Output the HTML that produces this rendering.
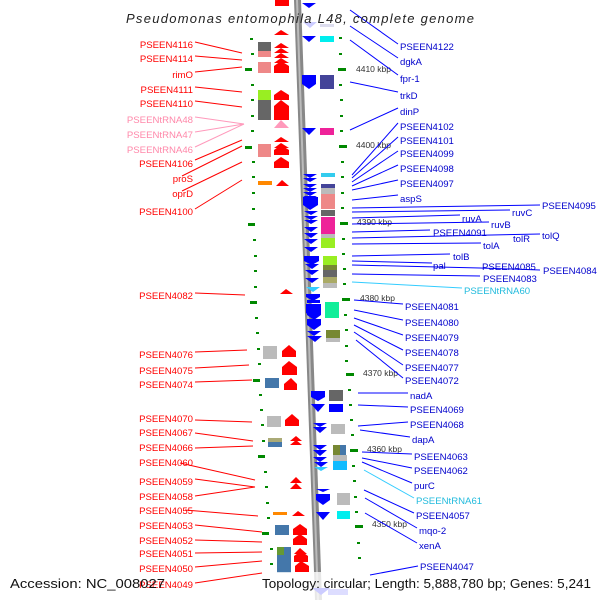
<!DOCTYPE html>
<html><head><meta charset="utf-8"><style>
html,body{margin:0;padding:0;background:#fff;width:600px;height:600px;overflow:hidden}
svg{display:block;font-family:"Liberation Sans","DejaVu Sans",sans-serif}
.l{fill:#f00;font-size:9.6px;text-anchor:end}
.p{fill:#f8a;font-size:9.6px;text-anchor:end}
.r{fill:#00c;font-size:9.6px}
.c{fill:#2bd;font-size:9.6px}
.k{fill:#333;font-size:8.5px}
</style></head><body>
<svg width="600" height="600" viewBox="0 0 600 600">
<!-- backbone -->
<polygon points="294,0 301,0 322,600 315,600" fill="#888"/>
<polygon points="296,0 298,0 319,600 317,600" fill="#bbb"/>
<!-- tick dots left -->
<g fill="#080">
<rect x="250" y="38" width="3" height="2"/><rect x="251" y="53" width="3" height="2"/><rect x="245" y="68" width="7" height="3"/><rect x="251" y="84" width="3" height="2"/><rect x="251" y="99" width="3" height="2"/><rect x="251" y="115" width="3" height="2"/><rect x="251" y="130" width="3" height="2"/><rect x="245" y="146" width="7" height="3"/><rect x="252" y="161" width="3" height="2"/><rect x="252" y="176" width="3" height="2"/><rect x="252" y="192" width="3" height="2"/><rect x="252" y="208" width="3" height="2"/><rect x="248" y="223" width="7" height="3"/><rect x="253" y="239" width="3" height="2"/><rect x="254" y="255" width="3" height="2"/><rect x="254" y="270" width="3" height="2"/><rect x="254" y="286" width="3" height="2"/><rect x="250" y="301" width="7" height="3"/><rect x="255" y="317" width="3" height="2"/><rect x="256" y="332" width="3" height="2"/><rect x="257" y="348" width="3" height="2"/><rect x="258" y="363" width="3" height="2"/><rect x="253" y="379" width="7" height="3"/><rect x="259" y="394" width="3" height="2"/><rect x="260" y="409" width="3" height="2"/><rect x="261" y="424" width="3" height="2"/><rect x="262" y="440" width="3" height="2"/><rect x="258" y="455" width="7" height="3"/><rect x="264" y="471" width="3" height="2"/><rect x="265" y="486" width="3" height="2"/><rect x="266" y="502" width="3" height="2"/><rect x="267" y="517" width="3" height="2"/><rect x="262" y="532" width="7" height="3"/><rect x="270" y="548" width="3" height="2"/><rect x="270" y="563" width="3" height="2"/>
<!-- right -->
<rect x="339" y="37" width="3" height="2"/><rect x="339" y="53" width="3" height="2"/><rect x="338" y="68" width="8" height="3"/><rect x="339" y="84" width="3" height="2"/><rect x="340" y="99" width="3" height="2"/><rect x="340" y="115" width="3" height="2"/><rect x="340" y="130" width="3" height="2"/><rect x="339" y="145" width="8" height="3"/><rect x="341" y="161" width="3" height="2"/><rect x="341" y="176" width="3" height="2"/><rect x="341" y="192" width="3" height="2"/><rect x="341" y="207" width="3" height="2"/><rect x="340" y="222" width="8" height="3"/><rect x="342" y="238" width="3" height="2"/><rect x="342" y="253" width="3" height="2"/><rect x="343" y="268" width="3" height="2"/><rect x="343" y="283" width="3" height="2"/><rect x="342" y="298" width="8" height="3"/><rect x="344" y="314" width="3" height="2"/><rect x="345" y="329" width="3" height="2"/><rect x="345" y="345" width="3" height="2"/><rect x="345" y="360" width="3" height="2"/><rect x="346" y="373" width="8" height="3"/><rect x="348" y="389" width="3" height="2"/><rect x="349" y="404" width="3" height="2"/><rect x="350" y="419" width="3" height="2"/><rect x="351" y="434" width="3" height="2"/><rect x="350" y="449" width="8" height="3"/><rect x="352" y="465" width="3" height="2"/><rect x="353" y="480" width="3" height="2"/><rect x="354" y="496" width="3" height="2"/><rect x="355" y="511" width="3" height="2"/><rect x="355" y="525" width="8" height="3"/><rect x="357" y="542" width="3" height="2"/><rect x="358" y="557" width="3" height="2"/>
</g>
<g class="k"><text x="356" y="72">4410 kbp</text><text x="356" y="148">4400 kbp</text><text x="357" y="225">4390 kbp</text><text x="360" y="301">4380 kbp</text><text x="363" y="376">4370 kbp</text><text x="367" y="452">4360 kbp</text><text x="372" y="527">4350 kbp</text></g>
<!-- left genes -->
<g fill="#f00">
<rect x="275" y="0" width="14" height="6"/>
<polygon points="274,35 281,30 289,35"/>
<polygon points="274,48 281,43 289,48"/><polygon points="274,53 281,48 289,53"/><polygon points="274,58 281,53 289,58"/><polygon points="274,63 281,58 289,63"/>
<polygon points="274,73 274,66 281,61 289,66 289,73"/>
<polygon points="274,100 274,95 281,90 289,95 289,100"/>
<polygon points="274,120 274,106 281,100 289,106 289,120"/>
<polygon points="274,142 281,137 289,142"/><polygon points="274,148 281,143 289,148"/>
<polygon points="274,155 274,150 281,145 289,150 289,155"/>
<polygon points="274,168 274,162 281,157 289,162 289,168"/>
<polygon points="276,186 282,180 289,186"/>
<polygon points="280,294 286,289 293,294"/>
<polygon points="282,357 282,351 289,345 296,351 296,357"/>
<polygon points="282,375 282,367 289,361 297,367 297,375"/>
<polygon points="284,390 284,384 291,378 297,384 297,390"/>
<polygon points="285,426 285,420 292,414 299,420 299,426"/>
<polygon points="290,441 296,436 302,441"/><polygon points="290,445 296,440 302,445"/>
<polygon points="290,483 296,477 302,483"/><polygon points="290,489 296,483 302,489"/>
<polygon points="292,516 298,511 305,516"/>
<polygon points="293,535 293,529 300,524 307,529 307,535"/>
<polygon points="293,545 293,539 300,534 307,539 307,545"/>
<polygon points="294,554 300,548 307,554"/><polygon points="294,562 294,556 301,551 308,556 308,562"/><polygon points="295,572 295,566 301,561 309,566 309,572"/>
</g>
<polygon points="274,128 281,120 289,128" fill="#f9b"/>
<rect x="258" y="42" width="13" height="9" fill="#666"/><rect x="258" y="51" width="13" height="6" fill="#e88"/>
<rect x="258" y="62" width="13" height="11" fill="#e88"/>
<rect x="258" y="90" width="13" height="10" fill="#9e2"/><rect x="258" y="100" width="13" height="20" fill="#666"/>
<rect x="258" y="144" width="13" height="13" fill="#e88"/>
<rect x="258" y="181" width="14" height="4" fill="#f80"/>
<rect x="263" y="346" width="14" height="13" fill="#bbb"/>
<rect x="265" y="378" width="14" height="10" fill="#47a"/>
<rect x="267" y="416" width="14" height="11" fill="#bbb"/>
<rect x="268" y="438" width="14" height="4" fill="#aa7"/><rect x="268" y="442" width="14" height="5" fill="#47a"/>
<rect x="273" y="512" width="14" height="3" fill="#f80"/>
<rect x="275" y="525" width="14" height="10" fill="#47a"/>
<rect x="277" y="547" width="7" height="8" fill="#693"/><rect x="284" y="547" width="7" height="8" fill="#47a"/><rect x="277" y="555" width="14" height="18" fill="#47a"/>
<!-- right genes -->
<g fill="#00f">
<polygon points="302,3 316,3 309,8"/>
<polygon points="303,22 317,22 310,28" fill="#ccf"/>
<polygon points="302,36 316,36 309,42"/>
<polygon points="302,75 316,75 316,84 309,89 302,84"/>
<polygon points="302,128 316,128 309,135"/>
<polygon points="303,174 317,174 310,178"/><polygon points="303,178 317,178 310,182"/><polygon points="303,184 317,184 310,188"/><polygon points="303,188 317,188 310,192"/><polygon points="303,192 317,192 310,196"/><polygon points="303,196 317,196 310,200"/>
<polygon points="303,197 318,197 318,205 310,210 303,205"/>
<polygon points="304,211 318,211 311,215"/><polygon points="304,216 318,216 311,220"/><polygon points="304,220 318,220 311,224"/><polygon points="304,227 318,227 311,232"/><polygon points="304,233 318,233 311,238"/><polygon points="304,239 318,239 311,244"/><polygon points="304,247 318,247 311,252"/><polygon points="304,256 319,256 319,261 312,265 304,261"/><polygon points="305,264 319,264 312,269"/><polygon points="305,270 319,270 312,275"/><polygon points="305,278 319,278 312,283"/>
<polygon points="306,294 320,294 313,299"/>
<polygon points="306,294 320,294 320,297 313,301 306,297"/>
<polygon points="306,304 320,304 320,313 313,318 306,313"/>
<polygon points="307,303 320,303 320,300 307,300" fill="#00f"/>
<polygon points="307,304 321,304 321,315 314,320 307,315"/>
<polygon points="307,319 321,319 321,325 314,330 307,325"/>
<polygon points="307,331 321,331 314,336"/><polygon points="307,336 322,336 315,342"/>
<polygon points="311,391 325,391 325,397 318,401 311,397"/>
<polygon points="311,404 325,404 318,412"/>
<polygon points="313,423 327,423 320,427"/><polygon points="313,427 327,427 320,433"/>
<polygon points="313,445 327,445 320,450"/><polygon points="313,450 327,450 320,456"/><polygon points="313,457 327,457 320,462"/><polygon points="314,462 328,462 321,467"/>
<polygon points="316,489 330,489 323,492"/><polygon points="316,494 330,494 330,500 323,505 316,500"/>
<polygon points="316,512 330,512 323,520"/>
</g>
<polygon points="306,287 320,287 313,292" fill="#3cf"/>
<polygon points="314,467 328,467 321,471" fill="#3cf"/>
<rect x="320" y="36" width="14" height="6" fill="#0ee"/>
<rect x="320" y="24" width="14" height="3" fill="#dde"/>
<rect x="320" y="75" width="14" height="14" fill="#449"/>
<rect x="320" y="128" width="14" height="7" fill="#e29"/>
<rect x="321" y="173" width="14" height="4" fill="#3ce"/>
<rect x="321" y="184" width="14" height="4" fill="#449"/><rect x="321" y="188" width="14" height="6" fill="#bbb"/><rect x="321" y="194" width="14" height="15" fill="#e88"/><rect x="321" y="210" width="14" height="6" fill="#666"/><rect x="321" y="217" width="14" height="17" fill="#e29"/><rect x="321" y="234" width="14" height="4" fill="#bbb"/><rect x="321" y="238" width="14" height="10" fill="#9e2"/>
<rect x="323" y="256" width="14" height="9" fill="#9e2"/><rect x="323" y="265" width="14" height="5" fill="#783"/><rect x="323" y="270" width="14" height="7" fill="#666"/><rect x="323" y="277" width="14" height="6" fill="#aa6"/><rect x="323" y="283" width="14" height="5" fill="#bbb"/>
<rect x="325" y="302" width="14" height="16" fill="#1e9"/>
<rect x="326" y="330" width="14" height="8" fill="#783"/><rect x="326" y="338" width="14" height="4" fill="#bbb"/>
<rect x="329" y="390" width="14" height="11" fill="#666"/><rect x="329" y="404" width="14" height="8" fill="#00f"/>
<rect x="331" y="424" width="14" height="10" fill="#bbb"/>
<rect x="333" y="445" width="7" height="10" fill="#783"/><rect x="340" y="445" width="6" height="10" fill="#47a"/><rect x="333" y="455" width="14" height="6" fill="#bbb"/><rect x="333" y="461" width="14" height="9" fill="#1bf"/>
<rect x="337" y="493" width="13" height="12" fill="#bbb"/>
<rect x="337" y="511" width="13" height="8" fill="#0ee"/>
<!-- faded bottom -->
<rect x="0" y="572" width="600" height="28" fill="#fff" opacity="0.8"/>
<polygon points="312,588 330,588 321,595" fill="#ccf"/><rect x="328" y="589" width="20" height="6" fill="#ddf"/>
<!-- left connectors -->
<g stroke="#f00" stroke-width="1">
<line x1="195" y1="42" x2="242" y2="53"/><line x1="195" y1="56" x2="242" y2="60"/><line x1="195" y1="72" x2="242" y2="67"/><line x1="195" y1="87" x2="242" y2="92"/><line x1="195" y1="101" x2="242" y2="107"/>
<line x1="195" y1="160" x2="242" y2="140"/><line x1="182" y1="176" x2="242" y2="146"/><line x1="182" y1="191" x2="242" y2="162"/><line x1="195" y1="209" x2="242" y2="180"/>
<line x1="195" y1="293" x2="245" y2="295"/><line x1="195" y1="352" x2="247" y2="350"/><line x1="195" y1="368" x2="249" y2="365"/><line x1="195" y1="382" x2="252" y2="380"/>
<line x1="195" y1="420" x2="252" y2="422"/><line x1="195" y1="433" x2="253" y2="441"/><line x1="195" y1="448" x2="253" y2="446"/><line x1="180" y1="463" x2="255" y2="480"/><line x1="195" y1="479" x2="255" y2="487"/><line x1="195" y1="496" x2="255" y2="487"/><line x1="185" y1="510" x2="258" y2="516"/><line x1="195" y1="525" x2="262" y2="532"/><line x1="195" y1="540" x2="262" y2="542"/><line x1="195" y1="553" x2="262" y2="552"/><line x1="195" y1="567" x2="262" y2="561"/><line x1="195" y1="583" x2="262" y2="573"/>
</g>
<g stroke="#f9b"><line x1="195" y1="117" x2="244" y2="124"/><line x1="195" y1="132" x2="244" y2="124"/><line x1="195" y1="147" x2="244" y2="124"/></g>
<!-- right connectors -->
<g stroke="#00f" stroke-width="1">
<line x1="350" y1="10" x2="398" y2="44"/><line x1="350" y1="26" x2="398" y2="58"/><line x1="350" y1="40" x2="398" y2="75"/><line x1="350" y1="82" x2="398" y2="92"/><line x1="350" y1="130" x2="398" y2="108"/>
<line x1="352" y1="175" x2="398" y2="123"/><line x1="352" y1="178" x2="398" y2="137"/><line x1="352" y1="182" x2="398" y2="151"/><line x1="352" y1="186" x2="398" y2="165"/><line x1="352" y1="190" x2="398" y2="180"/><line x1="352" y1="200" x2="398" y2="195"/>
<polyline fill="none" points="352,208 540,205"/><polyline fill="none" points="352,212 510,210"/><polyline fill="none" points="352,218 460,215"/><polyline fill="none" points="352,224 489,222"/><polyline fill="none" points="352,232 430,230"/><polyline fill="none" points="352,238 540,234"/><polyline fill="none" points="352,244 481,243"/><polyline fill="none" points="352,256 450,254"/><polyline fill="none" points="352,261 432,263"/><polyline fill="none" points="352,265 480,268 540,270"/><polyline fill="none" points="352,274 480,276"/>
<line x1="354" y1="300" x2="403" y2="304"/><line x1="354" y1="310" x2="403" y2="320"/><line x1="354" y1="318" x2="403" y2="335"/><line x1="354" y1="325" x2="403" y2="350"/><line x1="354" y1="332" x2="403" y2="365"/><line x1="356" y1="340" x2="403" y2="378"/>
<line x1="358" y1="393" x2="408" y2="393"/><line x1="358" y1="405" x2="408" y2="407"/><line x1="358" y1="426" x2="408" y2="422"/><line x1="360" y1="430" x2="410" y2="437"/><line x1="362" y1="452" x2="412" y2="454"/><line x1="362" y1="458" x2="412" y2="468"/><line x1="362" y1="462" x2="412" y2="483"/><line x1="364" y1="490" x2="414" y2="513"/><line x1="365" y1="498" x2="417" y2="528"/><line x1="365" y1="513" x2="417" y2="543"/><line x1="370" y1="575" x2="418" y2="566"/>
</g>
<line x1="352" y1="282" x2="462" y2="288" stroke="#3cf"/>
<line x1="364" y1="470" x2="414" y2="498" stroke="#3cf"/>
<!-- labels -->
<g class="l">
<text x="193" y="48">PSEEN4116</text><text x="193" y="62">PSEEN4114</text><text x="193" y="78">rimO</text><text x="193" y="93">PSEEN4111</text><text x="193" y="107">PSEEN4110</text>
<text x="193" y="167">PSEEN4106</text><text x="193" y="182">proS</text><text x="193" y="197">oprD</text><text x="193" y="215">PSEEN4100</text>
<text x="193" y="299">PSEEN4082</text><text x="193" y="358">PSEEN4076</text><text x="193" y="374">PSEEN4075</text><text x="193" y="388">PSEEN4074</text>
<text x="193" y="422">PSEEN4070</text><text x="193" y="436">PSEEN4067</text><text x="193" y="451">PSEEN4066</text><text x="193" y="466">PSEEN4060</text><text x="193" y="485">PSEEN4059</text><text x="193" y="500">PSEEN4058</text><text x="193" y="514">PSEEN4055</text><text x="193" y="529">PSEEN4053</text><text x="193" y="544">PSEEN4052</text><text x="193" y="557">PSEEN4051</text><text x="193" y="572">PSEEN4050</text><text x="193" y="588">PSEEN4049</text>
</g>
<g class="p"><text x="193" y="123">PSEENtRNA48</text><text x="193" y="138">PSEENtRNA47</text><text x="193" y="153">PSEENtRNA46</text></g>
<g class="r">
<text x="400" y="50">PSEEN4122</text><text x="400" y="65">dgkA</text><text x="400" y="82">fpr-1</text><text x="400" y="99">trkD</text><text x="400" y="115">dinP</text><text x="400" y="130">PSEEN4102</text><text x="400" y="144">PSEEN4101</text><text x="400" y="157">PSEEN4099</text><text x="400" y="172">PSEEN4098</text><text x="400" y="187">PSEEN4097</text><text x="400" y="202">aspS</text>
<text x="542" y="209">PSEEN4095</text><text x="512" y="216">ruvC</text><text x="462" y="222">ruvA</text><text x="491" y="228">ruvB</text><text x="433" y="236">PSEEN4091</text><text x="513" y="242">tolR</text><text x="542" y="239">tolQ</text><text x="483" y="249">tolA</text><text x="453" y="260">tolB</text><text x="433" y="269">pal</text><text x="482" y="270">PSEEN4085</text><text x="543" y="274">PSEEN4084</text><text x="483" y="282">PSEEN4083</text>
<text x="405" y="310">PSEEN4081</text><text x="405" y="326">PSEEN4080</text><text x="405" y="341">PSEEN4079</text><text x="405" y="356">PSEEN4078</text><text x="405" y="371">PSEEN4077</text><text x="405" y="384">PSEEN4072</text>
<text x="410" y="399">nadA</text><text x="410" y="413">PSEEN4069</text><text x="410" y="428">PSEEN4068</text><text x="412" y="443">dapA</text><text x="414" y="460">PSEEN4063</text><text x="414" y="474">PSEEN4062</text><text x="414" y="489">purC</text><text x="416" y="519">PSEEN4057</text><text x="419" y="534">mqo-2</text><text x="419" y="549">xenA</text><text x="420" y="570">PSEEN4047</text>
</g>
<g class="c"><text x="464" y="294">PSEENtRNA60</text><text x="416" y="504">PSEENtRNA61</text></g>
<text x="126" y="23" textLength="348" lengthAdjust="spacing" font-size="13" font-style="italic" fill="#222">Pseudomonas entomophila L48, complete genome</text>
<text x="10" y="588" textLength="155" lengthAdjust="spacingAndGlyphs" font-size="12.5" fill="#111">Accession: NC_008027</text>
<text x="262" y="588" textLength="329" lengthAdjust="spacingAndGlyphs" font-size="12.5" fill="#111">Topology: circular; Length: 5,888,780 bp; Genes: 5,241</text>
</svg>
</body></html>
